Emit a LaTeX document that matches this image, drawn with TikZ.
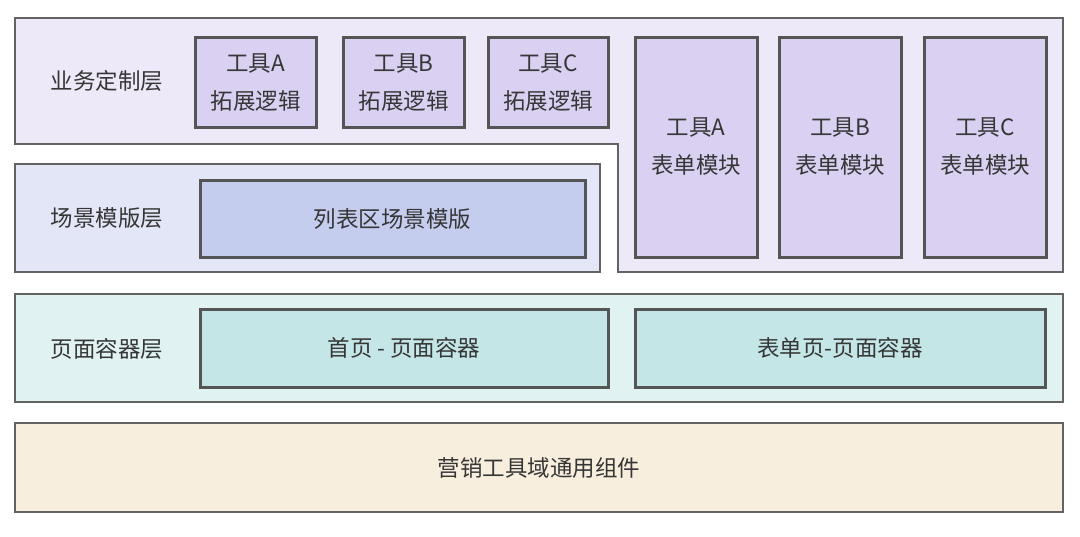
\documentclass[tikz,border=0pt]{standalone}
\usepackage{fontspec}
\setmainfont{Noto Sans CJK SC}
\definecolor{edge}{HTML}{636363}
\definecolor{boxedge}{HTML}{555555}
\definecolor{txt}{HTML}{363636}
\definecolor{bizfill}{HTML}{EDE9F8}
\definecolor{purp}{HTML}{DAD0F1}
\definecolor{scenefill}{HTML}{E3E6F7}
\definecolor{scenebox}{HTML}{C5CDEF}
\definecolor{pagefill}{HTML}{E0F2F2}
\definecolor{pagebox}{HTML}{C4E6E7}
\definecolor{basefill}{HTML}{F7EEDD}
\begin{document}
\begin{tikzpicture}[x=1pt,y=-1pt,
  outer/.style={draw=edge,line width=2.4pt},
  layer/.style={outer,inner sep=0pt,text=txt,font=\fontsize{22.5}{27}\selectfont},
  box/.style={draw=boxedge,line width=3pt,inner sep=0pt,text=txt,font=\fontsize{22.5}{38}\selectfont,align=center},
  lab/.style={text=txt,font=\fontsize{22.5}{27}\selectfont,inner sep=0pt}]
\useasboundingbox (0,0) rectangle (1080,536);
\fill[white] (0,0) rectangle (1080,536);
% business customization layer (L-shaped)
\draw[outer,fill=bizfill] (15,18) -- (1063,18) -- (1063,272) -- (618,272) -- (618,144) -- (15,144) -- cycle;
\node[lab] (bizlab) at (107,81) {业务定制层};
\node[box,fill=purp,minimum width=121pt,minimum height=90pt] (extA) at (255.5,82) {工具A\\拓展逻辑};
\node[box,fill=purp,minimum width=121pt,minimum height=90pt] (extB) at (403.5,82) {工具B\\拓展逻辑};
\node[box,fill=purp,minimum width=120pt,minimum height=90pt] (extC) at (548,82) {工具C\\拓展逻辑};
\node[box,fill=purp,minimum width=122pt,minimum height=220pt] (formA) at (696,147) {工具A\\表单模块};
\node[box,fill=purp,minimum width=122pt,minimum height=220pt] (formB) at (840,147) {工具B\\表单模块};
\node[box,fill=purp,minimum width=122pt,minimum height=220pt] (formC) at (985,147) {工具C\\表单模块};
% scene template layer
\node[layer,fill=scenefill,minimum width=585pt,minimum height=108pt] (scene) at (307.5,218) {};
\node[lab] (scenelab) at (107,218) {场景模版层};
\node[box,fill=scenebox,minimum width=385pt,minimum height=77pt] (listtpl) at (392.5,218.5) {列表区场景模版};
% page container layer
\node[layer,fill=pagefill,minimum width=1048pt,minimum height=108pt] (page) at (539,348) {};
\node[lab] (pagelab) at (107,349) {页面容器层};
\node[box,fill=pagebox,minimum width=408pt,minimum height=78pt] (home) at (404,348) {首页 - 页面容器};
\node[box,fill=pagebox,minimum width=410pt,minimum height=78pt] (formpage) at (840,348) {表单页-页面容器};
% common components
\node[layer,fill=basefill,minimum width=1048pt,minimum height=89pt] (base) at (539,467.5) {营销工具域通用组件};
\end{tikzpicture}
\end{document}
